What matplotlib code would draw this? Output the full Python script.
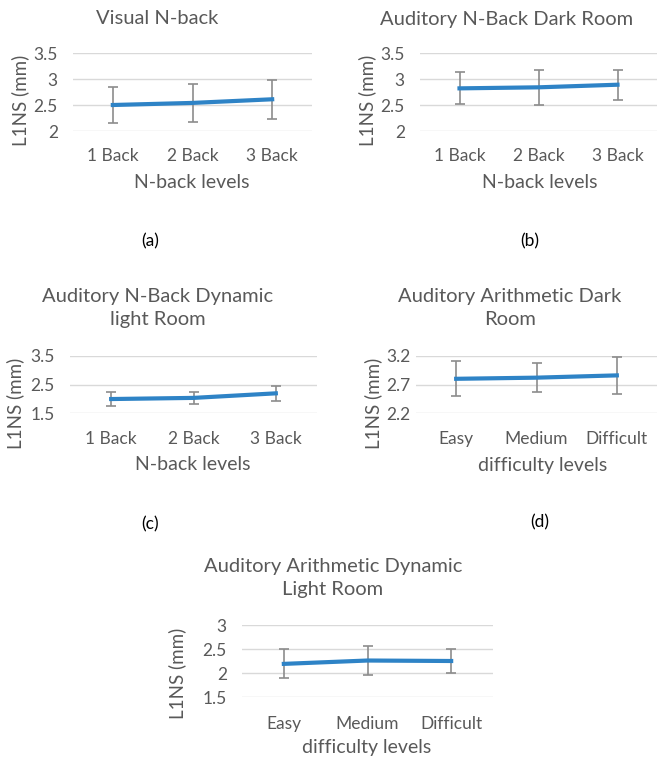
import matplotlib.pyplot as plt
import numpy as np

W, H = 657, 759

nback_levels = ["1 Back", "2 Back", "3 Back"]
diff_levels = ["Easy", "Medium", "Difficult"]

# mean L1NS and error bar half-widths for each condition
visual_mean = [2.50, 2.54, 2.61]
visual_err = [0.35, 0.37, 0.38]

aud_dark_mean = [2.82, 2.84, 2.89]
aud_dark_err = [0.31, 0.34, 0.29]

aud_dyn_mean = [1.99, 2.03, 2.19]
aud_dyn_err = [0.23, 0.22, 0.26]

arith_dark_mean = [2.80, 2.82, 2.86]
arith_dark_err = [0.31, 0.26, 0.32]

arith_dyn_mean = [2.19, 2.26, 2.25]
arith_dyn_err = [0.30, 0.30, 0.26]

plt.rcParams['font.family'] = ['Lato', 'DejaVu Sans']
GRAY = '#595959'
BLUE = '#2E83C6'

fig = plt.figure(figsize=(W / 100, H / 100), dpi=100)


def px_axes(left, top, right, bottom):
    return fig.add_axes([left / W, 1 - bottom / H, (right - left) / W, (bottom - top) / H])


def ftext(x, y, s, **kw):
    fig.text(x / W, 1 - y / H, s, ha='center', va='center', **kw)


def panel(box, cats, mean, err, ylim, yticks, yticklabels, ypad=11, xpad=12):
    ax = px_axes(*box)
    x = np.arange(len(cats))
    ax.errorbar(x, mean, yerr=err, color=BLUE, lw=3, ecolor='#8C8C8C',
                elinewidth=1.2, capsize=3.5, capthick=1.2, zorder=3)
    ax.set_xlim(-0.5, len(cats) - 0.5)
    ax.set_ylim(*ylim)
    ax.set_yticks(yticks)
    ax.set_yticklabels(yticklabels)
    ax.set_xticks(x)
    ax.set_xticklabels(cats)
    ax.grid(axis='y', color='#D9D9D9', lw=1)
    ax.set_axisbelow(True)
    for s in ax.spines.values():
        s.set_visible(False)
    ax.tick_params(length=0, labelsize=12.5, colors=GRAY)
    ax.tick_params(axis='x', pad=xpad)
    ax.tick_params(axis='y', pad=ypad)
    return ax


TITLE = dict(fontsize=14.5, color=GRAY, linespacing=1.4)
XLAB = dict(fontsize=14, color=GRAY)
YLAB = dict(fontsize=13.5, color=GRAY, rotation=90)
CAP = dict(fontsize=12.5, color='black')

# (a)
panel((73, 53, 312, 131), nback_levels, visual_mean, visual_err,
      (2, 3.5), [2, 2.5, 3, 3.5], ['2', '2.5', '3', '3.5'])
ftext(157, 19, "Visual N-back", **TITLE)
ftext(192, 183, "N-back levels", **XLAB)
ftext(20, 100, "L1NS (mm)", **YLAB)
ftext(150, 241, "(a)", **CAP)

# (b)
panel((420, 53, 657, 131), nback_levels, aud_dark_mean, aud_dark_err,
      (2, 3.5), [2, 2.5, 3, 3.5], ['2', '2.5', '3', '3.5'])
ftext(507, 20, "Auditory N-Back Dark Room", **TITLE)
ftext(540, 183, "N-back levels", **XLAB)
ftext(367, 100, "L1NS (mm)", **YLAB)
ftext(530, 241, "(b)", **CAP)

# (c)
panel((70, 356, 317, 413), nback_levels, aud_dyn_mean, aud_dyn_err,
      (1.5, 3.5), [1.5, 2.5, 3.5], ['1.5', '2.5', '3.5'], xpad=13)
ftext(158, 308, "Auditory N-Back Dynamic\nlight Room", **TITLE)
ftext(193, 465, "N-back levels", **XLAB)
ftext(15, 403, "L1NS (mm)", **YLAB)
ftext(150, 524, "(c)", **CAP)

# (d)
panel((416, 356, 657, 413), diff_levels, arith_dark_mean, arith_dark_err,
      (2.2, 3.2), [2.2, 2.7, 3.2], ['2.2', '2.7', '3.2'], ypad=4, xpad=13)
ftext(510, 308, "Auditory Arithmetic Dark\nRoom", **TITLE)
ftext(543, 465, "difficulty levels", **XLAB)
ftext(373, 403, "L1NS (mm)", **YLAB)
ftext(540, 522, "(d)", **CAP)

# (e)
panel((242, 625, 493, 697), diff_levels, arith_dyn_mean, arith_dyn_err,
      (1.5, 3), [1.5, 2, 2.5, 3], ['1.5', '2', '2.5', '3'], xpad=14)
ftext(333, 578, "Auditory Arithmetic Dynamic\nLight Room", **TITLE)
ftext(367, 748, "difficulty levels", **XLAB)
ftext(177, 673, "L1NS (mm)", **YLAB)

fig.savefig("out.png", dpi=100)
